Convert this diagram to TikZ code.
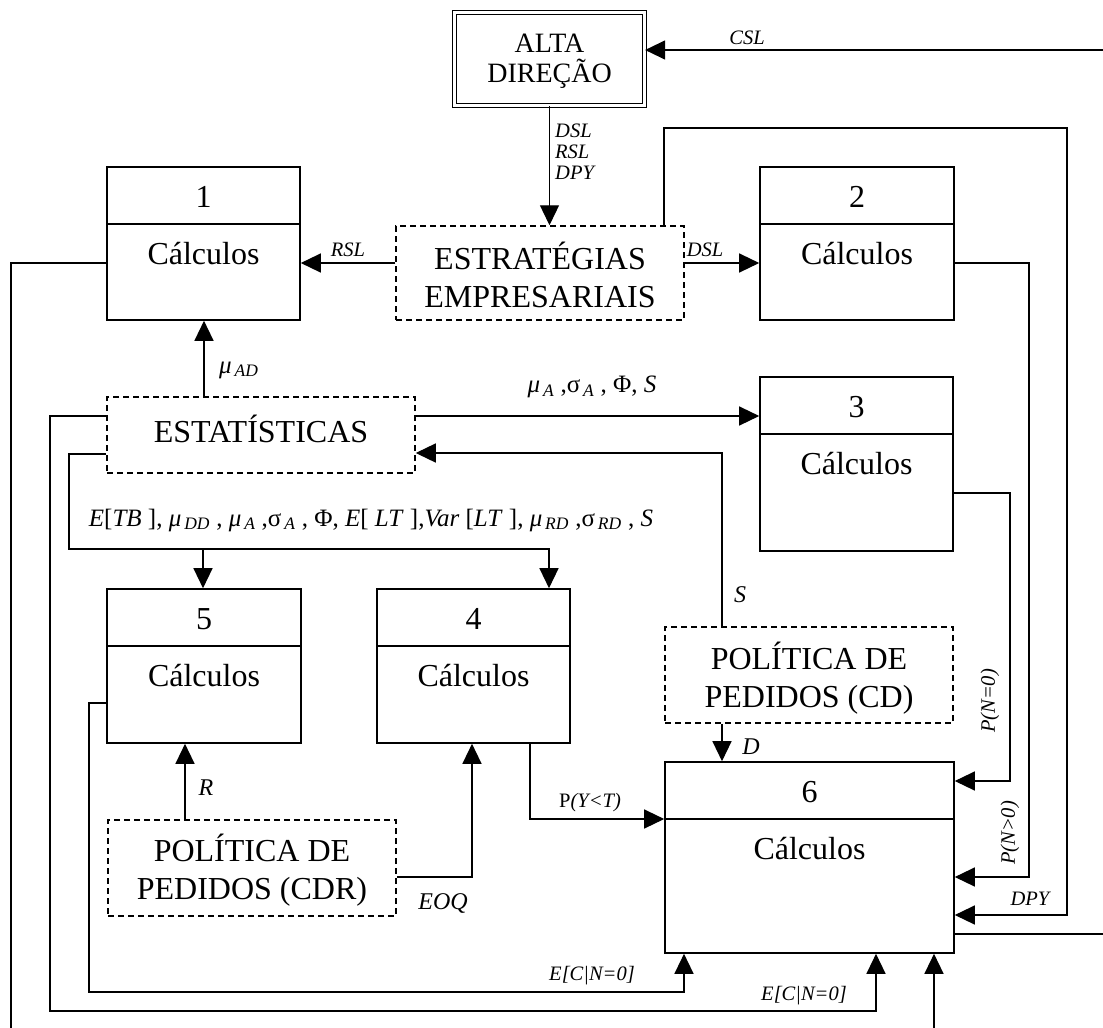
\documentclass[tikz,border=0pt]{standalone}
\usepackage{fontspec}
\setmainfont{Liberation Serif}
\usetikzlibrary{arrows.meta,fit,calc}

\tikzset{
  box/.style={draw, line width=1.6pt, inner sep=0pt},
  dbox/.style={draw, line width=1.5pt, dash pattern=on 6pt off 4pt, inner sep=0pt},
  conn/.style={line width=1.3pt},
  arr/.style={conn, -{Triangle[length=20pt,width=19pt]}},
  big/.style={font=\fontsize{32}{38}\selectfont, align=center, inner sep=0pt},
  lbl/.style={font=\fontsize{20.5}{22}\selectfont\itshape, inner sep=0pt},
  vlbl/.style={font=\fontsize{24}{26}\selectfont\itshape, inner sep=0pt},
  mlbl/.style={font=\fontsize{25}{27}\selectfont, inner sep=0pt},
}

\newcommand\sub[1]{\textsubscript{\itshape\,#1}}

% calculation block: name, left, top, right, bottom, number
\newcommand\numbox[6]{%
  \node[box, fit={(#2,#3) (#4,#5)}] (#1) {};
  \draw[line width=1.6pt] (#2,{#3+57}) -- (#4,{#3+57});
  \node[big] (#1-num) at ({(#2+#4)/2},{#3+30}) {#6};
  \node[big] (#1-txt) at ({(#2+#4)/2},{#3+87}) {Cálculos};
}

\begin{document}
\begin{tikzpicture}[x=1pt,y=-1pt]
\fill[white] (0,0) rectangle (1103,1028);
\useasboundingbox (0,0) rectangle (1103,1028);

% top management
\node[draw, double, double distance=3pt, line width=1.2pt,
      minimum width=190pt, minimum height=93pt] (alta) at (549.5,59) {};
\node[align=center, inner sep=0pt, font=\fontsize{28}{30}\selectfont] (alta-txt) at (549.5,61) {ALTA\\DIREÇÃO};

% policy and statistics blocks
\node[dbox, fit={(396,226) (684,320)}] (estr) {};
\node[big] (estr-txt) at (540,275) {ESTRATÉGIAS\\EMPRESARIAIS};
\node[dbox, fit={(107,397) (415,473)}] (stat) {};
\node[big] (stat-txt) at (261,429) {ESTATÍSTICAS};
\node[dbox, fit={(665,627) (953,723)}] (pcd) {};
\node[big] (pcd-txt) at (809,678) {POLÍTICA DE\\PEDIDOS (CD)};
\node[dbox, fit={(108,820) (396,916)}] (pcdr) {};
\node[big] (pcdr-txt) at (252,870) {POLÍTICA DE\\PEDIDOS (CDR)};

% calculation blocks
\numbox{b1}{107}{167}{300}{320}{1}
\numbox{b2}{760}{167}{954}{320}{2}
\numbox{b3}{760}{377}{953}{551}{3}
\numbox{b4}{377}{589}{570}{743}{4}
\numbox{b5}{107}{589}{301}{743}{5}
\numbox{b6}{665}{762}{954}{953}{6}

% free ends at the border
\coordinate (cslsrc) at (1103,50);
\coordinate (e1) at (11,1028);
\coordinate (e6) at (1103,934);
\coordinate (e7) at (934,1028);
\coordinate (split) at (203,549);

% management decisions
\draw[arr] (alta.south) -- (alta.south |- estr.north);
\node[lbl, anchor=west] at (555,131) {DSL};
\node[lbl, anchor=west] at (555,152) {RSL};
\node[lbl, anchor=west] at (555,173) {DPY};

\draw[arr] (cslsrc) -- (alta.east |- cslsrc);
\node[lbl] at (747,38) {CSL};

\draw[arr] (estr.west |- 0,263) -- (b1.east |- 0,263);
\node[lbl] at (348,250) {RSL};
\draw[arr] (estr.east |- 0,263) -- (b2.west |- 0,263);
\node[lbl] at (705,250) {DSL};

\draw[conn] (b1.west |- 0,263) -| (e1);

% statistics
\draw[arr] (stat.north -| 204,0) -- (b1.south -| 204,0);
\node[mlbl, anchor=west] at (219,370) {\textit{μ}\sub{AD}};

\draw[arr] (stat.east |- 0,416) -- (b3.west |- 0,416);
\node[mlbl] at (592,387) {\textit{μ}\sub{A} ,σ\sub{A} , Φ, \textit{S}};

\draw[arr] (pcd.north -| 722,0) |- (stat.east |- 0,453);
\node[vlbl] at (740,595) {S};

\draw[arr] (stat.west |- 0,416) -| (50,1011) -| (b6.south -| 876,0);
\node[lbl] at (804,996) {E[C|N=0]};

\draw[arr] (stat.west |- 0,454) -| (69,549) -| (b4.north -| 549,0);
\draw[arr] (split) -- (b5.north -| split);
\node[mlbl] at (371,520) {\textit{E}[\textit{TB} ], \textit{μ}\sub{DD} , \textit{μ}\sub{A} ,σ\sub{A} , Φ, \textit{E}[ \textit{LT} ],\textit{Var} [\textit{LT} ], \textit{μ}\sub{RD} ,σ\sub{RD} , \textit{S}};

% ordering policies
\draw[arr] (b5.west |- 0,703) -| (89,992) -| (b6.south -| 684,0);
\node[lbl] at (592,976) {E[C|N=0]};

\draw[arr] (pcdr.north -| 185,0) -- (b5.south -| 185,0);
\node[vlbl] at (206,788) {R};

\draw[arr] (pcdr.east |- 0,877) -| (b4.south -| 472,0);
\node[vlbl] at (443,903) {EOQ};

\draw[arr] (b4.south -| 530,0) |- (b6.west |- 0,819);
\node[lbl] at (590,803) {\upshape P\itshape(Y<T)};

\draw[arr] (pcd.south -| 722,0) -- (b6.north -| 722,0);
\node[vlbl] at (751,747) {D};

% inputs on the right of block 6
\draw[arr] (b3.east |- 0,493) -| (1010,781) -- (b6.east |- 0,781);
\node[lbl, rotate=90] at (990,701) {P(N=0)};

\draw[arr] (b2.east |- 0,263) -| (1029,877) -- (b6.east |- 0,877);
\node[lbl, rotate=90] at (1010,833) {P(N>0)};

\draw[arr] (estr.north -| 664,0) |- (1067,128) |- (b6.east |- 0,915);
\node[lbl] at (1030,899) {DPY};

\draw[conn] (b6.east |- e6) -- (e6);
\draw[arr] (e7) -- (b6.south -| e7);

\end{tikzpicture}
\end{document}
